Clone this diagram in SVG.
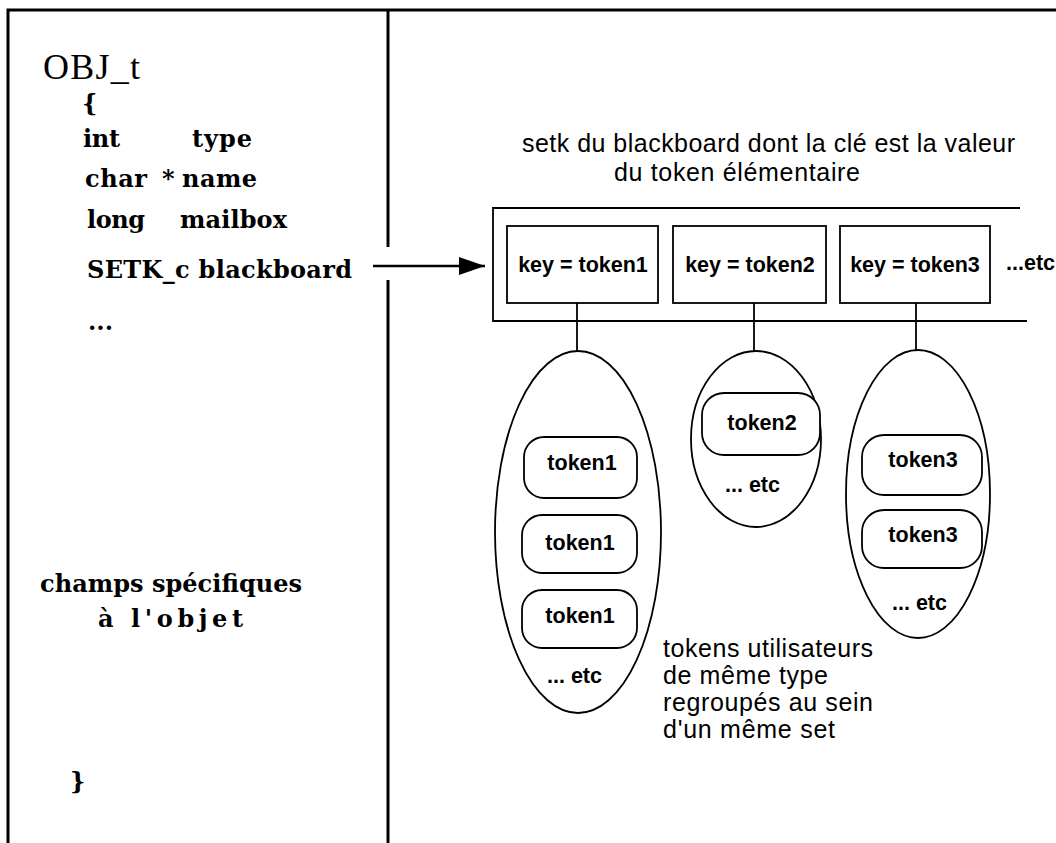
<svg xmlns="http://www.w3.org/2000/svg" width="1056" height="843" viewBox="0 0 1056 843">
<defs>
<style>
.frame{fill:none;stroke:#000;stroke-width:3}
.ln{fill:none;stroke:#000;stroke-width:1.8}
.box{fill:#fff;stroke:#000;stroke-width:1.8}
.code{font-family:"DejaVu Serif","Liberation Serif",serif;font-weight:bold;font-size:24px;fill:#000}
.sans{font-family:"Liberation Sans",Arial,sans-serif;font-size:25px;fill:#000}
.bsans{font-family:"Liberation Sans",Arial,sans-serif;font-weight:bold;font-size:21.5px;fill:#000}
</style>
<marker id="arr" markerWidth="26" markerHeight="18" refX="26" refY="9" orient="auto" markerUnits="userSpaceOnUse">
<path d="M0,0 L26,9 L0,18 Z" fill="#000"/>
</marker>
</defs>
<rect width="1056" height="843" fill="#fff"/>
<g id="frame">
<path class="frame" d="M8,843 V10 H1056"/>
<path class="frame" d="M388,10 V247 M388,280 V843"/>
</g>
<g id="struct">
<text x="43" y="79" font-family="'Liberation Serif',serif" font-size="36" fill="#000" textLength="97" lengthAdjust="spacing">OBJ_t</text>
<text class="code" x="82" y="112">{</text>
<text class="code" x="83" y="147" textLength="37">int</text>
<text class="code" x="192" y="147" textLength="60">type</text>
<text class="code" x="85" y="187" textLength="62">char</text>
<text class="code" x="162" y="187">*</text>
<text class="code" x="182" y="187" textLength="75">name</text>
<text class="code" x="87" y="228" textLength="58">long</text>
<text class="code" x="180" y="228" textLength="107">mailbox</text>
<text class="code" x="87" y="278" textLength="265">SETK_c blackboard</text>
<text class="code" x="88" y="330">...</text>
<text class="code" x="40" y="592" textLength="262">champs spécifiques</text>
<text class="code" x="98" y="627" textLength="145">à l'objet</text>
<text class="code" x="70" y="790">}</text>
</g>
<g id="caption-top">
<text class="sans" x="522" y="152" textLength="493">setk du blackboard dont la clé est la valeur</text>
<text class="sans" x="614" y="181" textLength="246">du token élémentaire</text>
</g>
<g id="setk">
<path class="ln" d="M1020,208 H493 V321 H1027"/>
<text class="bsans" x="1006" y="270">...etc</text>
</g>
<g id="key1"><rect class="box" x="507" y="226" width="151" height="77"/><text class="bsans" x="583" y="272" text-anchor="middle">key = token1</text></g>
<g id="key2"><rect class="box" x="673" y="226" width="153" height="77"/><text class="bsans" x="750" y="272" text-anchor="middle">key = token2</text></g>
<g id="key3"><rect class="box" x="840" y="226" width="150" height="77"/><text class="bsans" x="915" y="272" text-anchor="middle">key = token3</text></g>
<g id="connectors">
<line x1="373" y1="266" x2="485" y2="266" stroke="#000" stroke-width="2.5" marker-end="url(#arr)"/>
<line class="ln" x1="577" y1="303" x2="577" y2="351"/>
<line class="ln" x1="754" y1="303" x2="754" y2="351"/>
<line class="ln" x1="916" y1="303" x2="916" y2="351"/>
</g>
<g id="set1">
<ellipse class="ln" cx="578" cy="532" rx="83" ry="181"/>
<rect class="box" x="524" y="437" width="113" height="61" rx="20"/><text class="bsans" x="582" y="470" text-anchor="middle">token1</text>
<rect class="box" x="522" y="515" width="115" height="58" rx="20"/><text class="bsans" x="580" y="550" text-anchor="middle">token1</text>
<rect class="box" x="522" y="590" width="115" height="58" rx="20"/><text class="bsans" x="580" y="623" text-anchor="middle">token1</text>
<text class="bsans" x="547" y="683">... etc</text>
</g>
<g id="set2">
<ellipse class="ln" cx="756" cy="439" rx="65" ry="88"/>
<rect class="box" x="702" y="393" width="118" height="62" rx="22"/><text class="bsans" x="762" y="430" text-anchor="middle">token2</text>
<text class="bsans" x="725" y="492">... etc</text>
</g>
<g id="set3">
<ellipse class="ln" cx="918" cy="494" rx="72" ry="144"/>
<rect class="box" x="862" y="435" width="120" height="60" rx="22"/><text class="bsans" x="923" y="467" text-anchor="middle">token3</text>
<rect class="box" x="862" y="510" width="120" height="58" rx="22"/><text class="bsans" x="923" y="542" text-anchor="middle">token3</text>
<text class="bsans" x="892" y="610">... etc</text>
</g>
<g id="caption-bottom">
<text class="sans" x="663" y="657" textLength="210">tokens utilisateurs</text>
<text class="sans" x="663" y="684" textLength="165">de même type</text>
<text class="sans" x="663" y="711" textLength="210">regroupés au sein</text>
<text class="sans" x="663" y="738" textLength="172">d'un même set</text>
</g>
</svg>
